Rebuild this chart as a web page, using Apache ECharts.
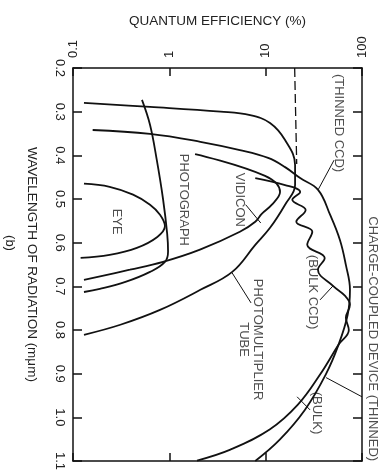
<!DOCTYPE html>
<html><head><meta charset="utf-8">
<script src="https://cdn.jsdelivr.net/npm/echarts@6/dist/echarts.min.js"></script>
<style>html,body{margin:0;padding:0;background:#fff}#c{width:388px;height:476px}</style>
</head><body><div id="c"></div>
<script>
// Axis ticks
const qeTicks = [0.1, 1, 10, 100];
const wlTicks = [0.2, 0.3, 0.4, 0.5, 0.6, 0.7, 0.8, 0.9, 1.0, 1.1];

// Curves: wavelength (micrometre) and quantum efficiency (%)
const eyeWl = [0.465, 0.472, 0.49, 0.513, 0.536, 0.562, 0.587, 0.612, 0.628, 0.635];
const eyeQe = [0.13, 0.24, 0.42, 0.63, 0.8, 0.9, 0.75, 0.46, 0.24, 0.12];

const photoWl = [0.273, 0.33, 0.41, 0.5, 0.58, 0.62, 0.644, 0.667, 0.69, 0.706, 0.713];
const photoQe = [0.52, 0.63, 0.74, 0.86, 0.95, 0.97, 0.9, 0.63, 0.35, 0.19, 0.13];

const vidiconWl = [0.397, 0.447, 0.484, 0.513, 0.534, 0.552, 0.575, 0.616, 0.644, 0.662, 0.685];
const vidiconQe = [1.85, 9.86, 14.1, 11.6, 9.1, 7.8, 5.4, 2.08, 0.86, 0.39, 0.13];

const pmtWl = [0.28, 0.289, 0.30, 0.308, 0.326, 0.365, 0.422, 0.468, 0.513, 0.566, 0.605, 0.667, 0.708, 0.754, 0.788, 0.811];
const pmtQe = [0.13, 0.63, 3.4, 6.9, 11.1, 15.9, 20.2, 20.2, 15.9, 11.1, 7.8, 4.5, 2.1, 0.8, 0.31, 0.13];

const thinWl = [0.342, 0.351, 0.369, 0.388, 0.406, 0.427, 0.452, 0.479, 0.536, 0.594, 0.651, 0.708, 0.765, 0.834, 0.902, 0.983, 1.051, 1.1];
const thinQe = [0.16, 0.63, 2.1, 5.4, 10.6, 15.9, 22.8, 35, 46.6, 59, 68, 75, 71, 57, 42, 25.5, 14, 7.8];

const thinUvWl = [0.2, 0.42];
const thinUvQe = [20, 21];

const bulkWl = [0.452, 0.468, 0.484, 0.502, 0.525, 0.552, 0.575, 0.605, 0.635, 0.662, 0.699, 0.722, 0.742, 0.772, 0.80, 0.834, 0.902, 0.971, 1.028, 1.074, 1.099];
const bulkQe = [7.8, 15.9, 22.8, 18.9, 26, 20.8, 30.5, 27, 41, 34.9, 50, 66.8, 75, 68, 73, 57, 36.7, 21.6, 11, 4.3, 1.94];

// Annotation labels
const labelText = ['EYE', 'PHOTOGRAPH', 'VIDICON', 'PHOTOMULTIPLIER\nTUBE', '(THINNED CCD)', '(BULK CCD)', '(BULK)', 'CHARGE-COUPLED DEVICE (THINNED)'];
const labelWl = [0.552, 0.502, 0.502, 0.822, 0.326, 0.713, 0.99, 0.82];
const labelQe = [0.286, 1.39, 5.42, 7.05, 56.5, 31, 34, 130];

// Leader lines [wl, qe] end points
const leaderVidicon = [[0.513, 6.2], [0.555, 8.9]];
const leaderPmt = [[0.738, 7.05], [0.669, 4.48]];
const leaderThinCcd = [[0.411, 51.3], [0.479, 35]];
const leaderBulkCcd = [[0.731, 36.7], [0.699, 50]];
const leaderBulk = [[0.983, 28.9], [0.953, 21.2]];
const leaderThinned = [[0.909, 42.4], [0.953, 100]];

function pairs(wl, qe) { return wl.map((w, i) => [qe[i], w]); }
function flip(arr) { return arr.map(p => [p[1], p[0]]); }

const chart = echarts.init(document.getElementById('c'));
const lineStyle = { color: '#111', width: 1.8 };
const curve = (name, wl, qe) => ({
  name, type: 'line', data: pairs(wl, qe), smooth: 0.4, symbol: 'none',
  lineStyle, xAxisIndex: 0, yAxisIndex: 0, z: 3
});
const leader = (data) => ({
  type: 'line', data: flip(data), symbol: 'none', lineStyle: { color: '#111', width: 1 },
  xAxisIndex: 0, yAxisIndex: 0, silent: true, clip: false
});
const axisLine = { show: true, lineStyle: { color: '#111', width: 1.5 } };
const font = 'Liberation Sans, Arial, sans-serif';

chart.setOption({
  animation: false,
  backgroundColor: '#fff',
  grid: { left: 73, right: 26, top: 68, bottom: 15, containLabel: false },
  xAxis: [
    { type: 'log', logBase: 10, min: 0.1, max: 100, position: 'top',
      name: 'QUANTUM EFFICIENCY (%)', nameLocation: 'middle', nameGap: 40,
      nameTextStyle: { fontFamily: font, fontSize: 13.5, color: '#222' },
      axisLine, axisTick: { inside: true, length: 8, lineStyle: { color: '#111', width: 1.5 } },
      minorTick: { show: false }, splitLine: { show: false },
      axisLabel: { rotate: -90, margin: 10, fontFamily: font, fontSize: 13, color: '#222',
        formatter: v => String(qeTicks.find(t => Math.abs(t - v) / t < 1e-6) ?? v) } },
    { type: 'log', logBase: 10, min: 0.1, max: 100, position: 'bottom',
      axisLine, axisTick: { inside: true, length: 8, lineStyle: { color: '#111', width: 1.5 } },
      splitLine: { show: false }, axisLabel: { show: false } }
  ],
  yAxis: [
    { type: 'value', min: 0.2, max: 1.1, interval: 0.1, inverse: true, position: 'left',
      name: 'WAVELENGTH OF RADIATION (mμm)', nameLocation: 'middle', nameGap: 34, nameRotate: -90,
      nameTextStyle: { fontFamily: font, fontSize: 13.5, color: '#222' },
      axisLine, axisTick: { inside: true, length: 9, lineStyle: { color: '#111', width: 1.5 } },
      splitLine: { show: false },
      axisLabel: { rotate: -90, margin: 7, fontFamily: font, fontSize: 13, color: '#222',
        formatter: v => v.toFixed(1) } },
    { type: 'value', min: 0.2, max: 1.1, interval: 0.1, inverse: true, position: 'right',
      axisLine, axisTick: { inside: true, length: 9, lineStyle: { color: '#111', width: 1.5 } },
      splitLine: { show: false }, axisLabel: { show: false } }
  ],
  graphic: [
    { type: 'text', x: 10, y: 243, rotation: -Math.PI / 2,
      style: { text: '(b)', font: '13px ' + font, fill: '#222', align: 'center', verticalAlign: 'middle' } }
  ],
  series: [
    curve('Eye', eyeWl, eyeQe),
    curve('Photograph', photoWl, photoQe),
    curve('Vidicon', vidiconWl, vidiconQe),
    curve('Photomultiplier tube', pmtWl, pmtQe),
    curve('Thinned CCD', thinWl, thinQe),
    curve('Bulk CCD', bulkWl, bulkQe),
    { name: 'Thinned CCD (UV)', type: 'line', data: pairs(thinUvWl, thinUvQe), symbol: 'none',
      lineStyle: { color: '#111', width: 1.3, type: [9, 4] } },
    leader(leaderVidicon), leader(leaderPmt), leader(leaderThinCcd),
    leader(leaderBulkCcd), leader(leaderBulk), leader(leaderThinned),
    { name: 'labels', type: 'scatter', symbolSize: 0, clip: false, silent: true,
      data: labelText.map((t, i) => ({ name: t, value: [labelQe[i], labelWl[i]] })),
      label: { show: true, position: 'inside', rotate: -90, formatter: p => p.name,
        fontFamily: font, fontSize: 13, color: '#222', lineHeight: 14, align: 'center', verticalAlign: 'middle' } }
  ]
});
</script></body></html>
